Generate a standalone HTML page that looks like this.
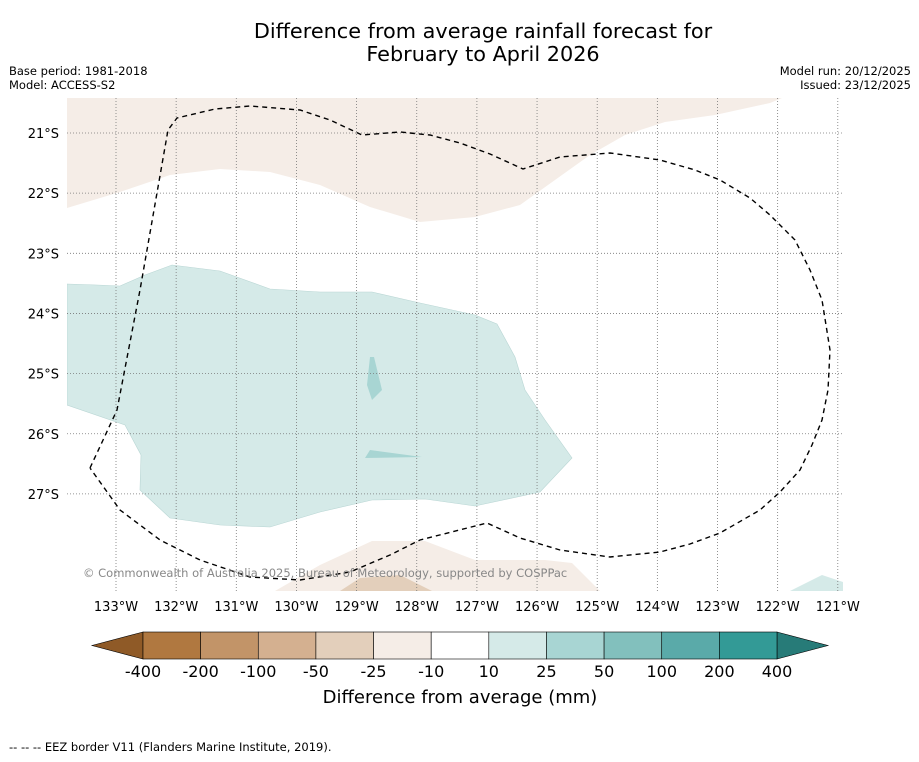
<!DOCTYPE html>
<html><head><meta charset="utf-8"><style>
body{margin:0;background:#fff;width:919px;height:758px;overflow:hidden;font-family:"DejaVu Sans",sans-serif;}
</style></head><body>
<svg id="chart" width="919" height="758" xmlns="http://www.w3.org/2000/svg" font-family="DejaVu Sans, sans-serif">
<text x="483" y="38" font-size="20.8" text-anchor="middle">Difference from average rainfall forecast for</text>
<text x="483" y="61" font-size="20.8" text-anchor="middle">February to April 2026</text>
<text x="9" y="75" font-size="11.5">Base period: 1981-2018</text>
<text x="9" y="89" font-size="11.5">Model: ACCESS-S2</text>
<text x="911" y="75" font-size="11.5" text-anchor="end">Model run: 20/12/2025</text>
<text x="911" y="89" font-size="11.5" text-anchor="end">Issued: 23/12/2025</text>
<defs><clipPath id="mapclip"><rect x="67" y="98" width="776" height="493"/></clipPath></defs>
<g id="map" clip-path="url(#mapclip)">
<polygon fill="#f5ede7" points="67,98 782,98 770,103 715,115 665,122 625,135 590,155 555,180 520,205 475,217 420,222 370,207 320,185 270,172 220,169 170,175 120,192 67,208"/>
<polygon fill="#d5eae8" stroke="#b9d6d4" stroke-width="0.6" points="67,284 97,285 120,286 145,275 172,265 220,271 270,289 320,292 372,292 420,303 475,315 497,324 515,357 525,390 545,420 572,458 540,492 475,506 425,499 372,500 320,512 270,527 220,525 170,518 140,490 141,455 125,425 67,405"/>
<polygon fill="#a8d5d3" points="370,357 374,357 382,390 372,400 367,385"/>
<polygon fill="#a8d5d3" points="370,450 422,457 365,458"/>
<polygon fill="#f5ede7" points="275,591 320,565 372,541 425,541 475,560 545,560 572,563 600,591"/>
<polygon fill="#e3cfbb" points="340,591 360,578 400,575 432,591"/>
<polygon fill="#d5eae8" points="790,591 822,575 843,582 843,591"/>
<g id="grid"></g>
<polyline fill="none" stroke="#000" stroke-width="1.4" stroke-dasharray="5,4" points="90,468 117,410 140,290 168,130 177,118 215,109 250,106 300,110 330,120 362,135 400,132 430,135 460,143 490,154 523,169 560,157 610,153 660,160 695,170 720,180 750,198 770,215 795,240 810,270 822,300 830,350 828,390 822,420 812,445 800,470 780,492 760,510 720,533 690,544 660,552 610,557 560,550 520,538 487,523 420,540 390,555 350,572 300,580 250,577 200,560 160,540 120,510 90,468"/>
<text x="83" y="577" font-size="11.5" fill="#888">© Commonwealth of Australia 2025, Bureau of Meteorology, supported by COSPPac</text>
</g>
<g id="axes"></g>
<g id="cbar"></g>
<text x="460" y="703" font-size="18" text-anchor="middle">Difference from average (mm)</text>
<text x="9" y="751" font-size="11.5">--  --  -- EEZ border V11 (Flanders Marine Institute, 2019).</text>
</svg>
<script>
const latTicks=[21,22,23,24,25,26,27];
const lonTicks=[133,132,131,130,129,128,127,126,125,124,123,122,121];
const cbarLabels=["-400","-200","-100","-50","-25","-10","10","25","50","100","200","400"];
const cbarColors=["#b07840","#c29468","#d4b090","#e3cfbb","#f5ede7","#ffffff","#d5eae8","#a8d5d3","#82c0bd","#5aaaa9","#339a96"];
const NS="http://www.w3.org/2000/svg";
function xLon(l){return 116+(133-l)*60.15;}
function yLat(l){return 133+(l-21)*60.15;}
function mk(t,a,p){const e=document.createElementNS(NS,t);for(const k in a)e.setAttribute(k,a[k]);p.appendChild(e);return e;}
const grid=document.getElementById('grid'),axes=document.getElementById('axes'),cbar=document.getElementById('cbar');
lonTicks.forEach(l=>{const x=xLon(l);
const g=mk('line',{x1:x,x2:x,y1:98,y2:591,stroke:'#777','stroke-width':0.8,'stroke-dasharray':'1,2'},grid);


const t=mk('text',{x:x,y:611,'font-size':13,'text-anchor':'middle'},axes);t.textContent=l+'°W';

});
latTicks.forEach(l=>{const y=yLat(l);
const g=mk('line',{x1:67,x2:843,y1:y,y2:y,stroke:'#777','stroke-width':0.8,'stroke-dasharray':'1,2'},grid);


const t=mk('text',{x:59,y:y+5,'font-size':13,'text-anchor':'end'},axes);t.textContent=l+'°S';

});
const x0=143,x1=777,y0=632,h=27,w=(x1-x0)/cbarColors.length;
const lt=mk('polygon',{points:`${x0},${y0} 92,${y0+h/2} ${x0},${y0+h}`,fill:'#8f5a27',stroke:'#000','stroke-width':0.6},cbar);


const rt=mk('polygon',{points:`${x1},${y0} 828,${y0+h/2} ${x1},${y0+h}`,fill:'#277b78',stroke:'#000','stroke-width':0.6},cbar);


cbarColors.forEach((c,i)=>{const r=mk('rect',{x:x0+i*w,y:y0,width:w,height:h,fill:c,stroke:'#000','stroke-width':0.6},cbar);

});
cbarLabels.forEach((s,i)=>{const t=mk('text',{x:x0+i*w,y:677,'font-size':16,'text-anchor':'middle'},cbar);t.textContent=s;

});
</script>
</body></html>
